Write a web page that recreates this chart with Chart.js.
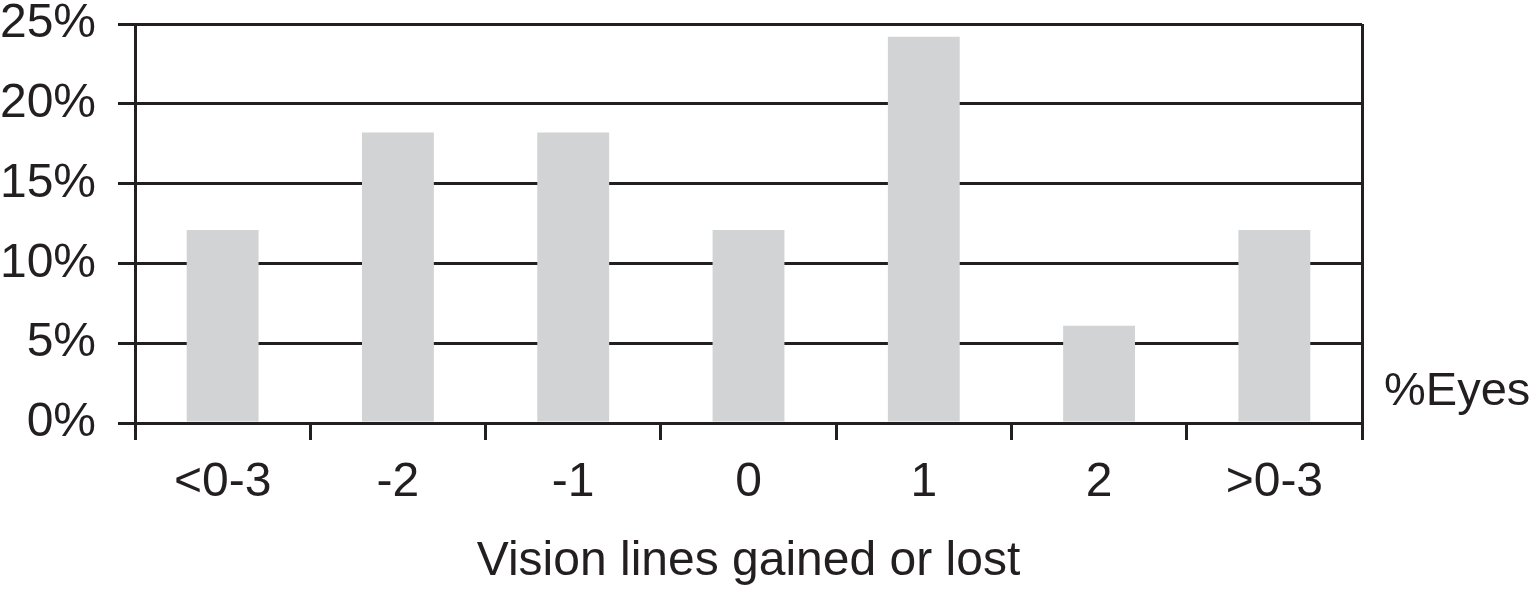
<!DOCTYPE html>
<html>
<head>
<meta charset="utf-8">
<script src="https://cdn.jsdelivr.net/npm/chart.js@4.4.1/dist/chart.umd.min.js"></script>
<style>
  html, body { margin: 0; padding: 0; background: #ffffff; }
  #wrap { width: 1535px; height: 597px; }
</style>
</head>
<body>
<div id="wrap"><canvas id="c" width="1535" height="597"></canvas></div>
<script>
const categories = ["<0-3", "-2", "-1", "0", "1", "2", ">0-3"];
const percentEyes = [12.1, 18.2, 18.2, 12.1, 24.2, 6.1, 12.1];
const yTicks = [0, 5, 10, 15, 20, 25];
const xTitle = "Vision lines gained or lost";
const seriesLabel = "%Eyes";

const INK = "#231f20";
const BAR = "#d1d3d4";
const FONT = "'Liberation Sans', Arial, Helvetica, sans-serif";

const sideLabel = {
  id: "sideLabel",
  afterDraw(chart) {
    const ctx = chart.ctx;
    const y0 = chart.scales.y.getPixelForValue(0);
    ctx.save();
    ctx.fillStyle = INK;
    ctx.font = "47px " + FONT;
    ctx.textAlign = "left";
    ctx.textBaseline = "alphabetic";
    ctx.fillText(seriesLabel, chart.chartArea.right + 22, y0 - 18);
    ctx.restore();
  }
};

new Chart(document.getElementById("c"), {
  type: "bar",
  data: {
    labels: categories,
    datasets: [{
      label: seriesLabel,
      data: percentEyes,
      backgroundColor: BAR,
      borderWidth: 0,
      categoryPercentage: 1,
      barPercentage: 0.41
    }]
  },
  options: {
    responsive: false,
    devicePixelRatio: 1,
    animation: false,
    layout: { padding: { left: 0, top: 24, right: 173, bottom: 0 } },
    plugins: { legend: { display: false }, tooltip: { enabled: false } },
    scales: {
      x: {
        offset: true,
        grid: {
          offset: true,
          drawOnChartArea: true,
          lineWidth: 3,
          color: (c) => (c.type === "tick" && c.index !== 0) ? "rgba(0,0,0,0)" : INK,
          tickColor: INK,
          tickLength: 17,
          tickWidth: 3
        },
        border: { display: false },
        ticks: {
          color: INK,
          font: { family: FONT, size: 48 },
          padding: 14,
          maxRotation: 0,
          autoSkip: false
        },
        title: {
          display: true,
          text: xTitle,
          color: INK,
          font: { family: FONT, size: 48 },
          padding: { top: 14, bottom: 6 }
        },
        afterFit(s) { s.height = 174; s.paddingLeft = 0; s.paddingRight = 0; }
      },
      y: {
        min: 0,
        max: 25,
        afterBuildTicks(s) { s.ticks = yTicks.map(v => ({ value: v })); },
        grid: {
          lineWidth: 3,
          color: INK,
          tickLength: 17,
          tickColor: INK
        },
        border: { display: true, color: INK, width: 3 },
        ticks: {
          color: INK,
          font: { family: FONT, size: 48 },
          padding: 22,
          callback: (v) => v + "%"
        },
        afterFit(s) { s.width = 135; s.paddingTop = 0; s.paddingBottom = 0; }
      }
    }
  },
  plugins: [sideLabel]
});
</script>
</body>
</html>
